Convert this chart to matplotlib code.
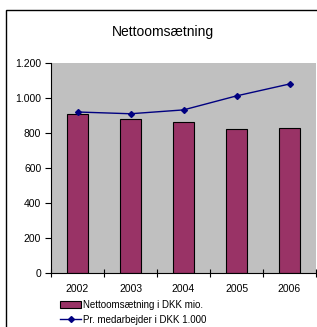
import matplotlib.pyplot as plt
import matplotlib.patches as mpatches
from matplotlib.lines import Line2D
import numpy as np

plt.rcParams['font.family'] = ['Liberation Sans', 'DejaVu Sans']

years = ['2002', '2003', '2004', '2005', '2006']
omsaetning = [910, 880, 862, 822, 830]          # Nettoomsætning i DKK mio.
pr_medarbejder = [920, 910, 932, 1012, 1080]    # Pr. medarbejder i DKK 1.000
yticks = [0, 200, 400, 600, 800, 1000, 1200]
ytick_labels = ['0', '200', '400', '600', '800', '1.000', '1.200']

title = 'Nettoomsætning'
legend_labels = ['Nettoomsætning i DKK mio.', 'Pr. medarbejder i DKK 1.000']

bar_color = '#993366'
line_color = '#000080'

fig = plt.figure(figsize=(3.17, 3.27), dpi=100)
fig.patch.set_facecolor('white')

# outer chart border (right/bottom run off the picture)
fig.patches.append(mpatches.Rectangle((6 / 317, -0.1), 1.2, (327 - 10) / 327 + 0.1,
                                      transform=fig.transFigure, fill=False,
                                      edgecolor='black', linewidth=1.0))

ax = fig.add_axes([51 / 317, 54 / 327, 265 / 317, 210 / 327])
ax.set_facecolor('#C0C0C0')

x = np.arange(len(years))
ax.bar(x, omsaetning, width=0.4, color=bar_color, edgecolor='black', linewidth=0.8, zorder=2)
ax.plot(x, pr_medarbejder, color=line_color, marker='D', markersize=3, linewidth=1.0, zorder=3)

ax.set_xlim(-0.5, len(years) - 0.5)
ax.set_ylim(0, 1200)

ax.set_xticks(np.arange(len(years) + 1) - 0.5)
ax.set_xticklabels([])
ax.set_xticks(x, minor=True)
ax.set_xticklabels(years, minor=True, fontsize=7.5)
ax.tick_params(axis='x', which='major', direction='inout', length=6, width=0.8)
ax.tick_params(axis='x', which='minor', length=0, pad=8)

ax.set_yticks(yticks)
ax.set_yticklabels(ytick_labels, fontsize=7.5)
ax.tick_params(axis='y', direction='out', length=4, width=0.8, pad=3)

ax.spines['top'].set_visible(False)
ax.spines['right'].set_visible(False)
ax.spines['left'].set_linewidth(0.8)
ax.spines['bottom'].set_linewidth(0.8)

fig.text(163 / 317, 1 - 32 / 327, title, ha='center', va='center', fontsize=10)

handles = [mpatches.Patch(facecolor=bar_color, edgecolor='black', linewidth=0.8),
           Line2D([0], [0], color=line_color, marker='D', markersize=3, linewidth=1.0)]
fig.legend(handles, legend_labels, loc='upper left', bbox_to_anchor=(55 / 317, 1 - 295 / 327),
           frameon=False, fontsize=7, handlelength=2.2, handletextpad=0.2,
           labelspacing=0.5, borderpad=0)

fig.savefig('out.png', dpi=100)
